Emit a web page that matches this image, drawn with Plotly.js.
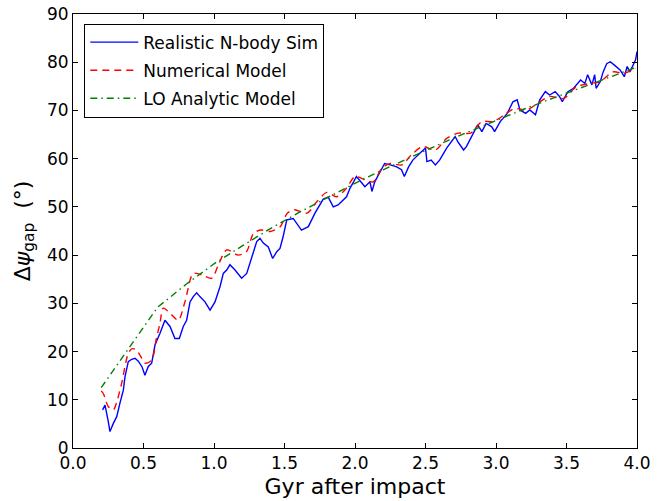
<!DOCTYPE html>
<html>
<head>
<meta charset="utf-8">
<script src="https://cdn.plot.ly/plotly-3.0.1.min.js"></script>
<style>html,body{margin:0;padding:0;background:#fff;}#chart{width:670px;height:501px;}</style>
</head>
<body>
<div id="chart"></div>
<script>
// Realistic N-body Sim (blue)
const simT = [0.21,0.227,0.25,0.262,0.286,0.31,0.333,0.357,0.369,0.392,0.416,0.44,0.463,0.49,0.51,0.534,0.558,0.582,0.617,0.652,0.688,0.723,0.754,0.782,0.806,0.83,0.853,0.877,0.90,0.936,0.972,1.007,1.043,1.066,1.09,1.113,1.149,1.196,1.232,1.267,1.303,1.326,1.35,1.385,1.416,1.445,1.468,1.49,1.516,1.562,1.62,1.669,1.716,1.775,1.81,1.846,1.88,1.94,1.965,1.99,2.01,2.05,2.07,2.106,2.12,2.14,2.18,2.21,2.25,2.296,2.33,2.35,2.38,2.41,2.46,2.50,2.51,2.54,2.57,2.60,2.65,2.69,2.71,2.73,2.77,2.79,2.83,2.87,2.90,2.93,2.97,2.99,3.03,3.08,3.12,3.15,3.17,3.21,3.24,3.28,3.31,3.35,3.38,3.42,3.45,3.47,3.51,3.55,3.60,3.63,3.65,3.68,3.70,3.71,3.74,3.76,3.785,3.81,3.84,3.88,3.91,3.93,3.95,3.97,3.99,4.0];
const simY = [7.9,8.9,5.5,3.4,5.1,6.5,9.3,12.0,14.8,17.9,18.4,18.6,18.0,16.8,15.1,16.9,17.6,21.4,23.8,26.5,25.2,22.7,22.7,25.2,26.5,30.3,31.4,32.2,31.4,30.3,28.6,30.3,33.5,36.2,36.9,38.0,36.9,35.2,36.2,39.7,42.8,43.5,42.5,41.7,39.3,40.7,41.4,43.8,47.3,47.6,45.2,45.9,48.7,51.6,52.0,50.0,50.4,52.1,53.9,55.2,56.3,54.9,54.2,55.2,53.2,55.2,57.3,59.0,58.7,58.3,57.7,56.3,58.3,59.7,61.1,62.2,59.4,59.7,58.7,59.7,62.2,63.9,64.6,63.5,61.8,62.5,64.6,67.0,65.6,67.3,66.6,65.6,67.7,69.4,71.8,72.2,70.1,69.4,70.1,69.1,72.2,73.9,73.2,73.9,72.9,71.8,73.9,74.6,76.3,75.6,77.4,75.3,77.4,74.6,76.0,78.0,79.7,80.1,79.4,78.4,77.0,79.1,78.0,79.4,80.5,82.2];

// Numerical Model (red dashed)
const numT = [0.2,0.215,0.25,0.286,0.31,0.345,0.392,0.42,0.45,0.48,0.51,0.558,0.59,0.617,0.64,0.70,0.747,0.794,0.853,0.913,0.984,1.03,1.09,1.17,1.23,1.28,1.33,1.40,1.47,1.52,1.57,1.66,1.73,1.80,1.87,1.94,2.0,2.07,2.13,2.19,2.25,2.33,2.40,2.48,2.57,2.65,2.73,2.82,2.90,2.98,3.06,3.13,3.22,3.31,3.38,3.48,3.57,3.67,3.74,3.83,3.91,3.99];
const numY = [11.8,11.3,8.6,7.9,9.5,13.4,19.6,20.6,20.3,19.0,17.6,18.2,22.5,25.9,29.0,27.6,26.5,30.3,36.2,35.9,35.2,37.9,41.1,40.0,40.7,44.5,45.2,44.9,45.9,48.7,49.4,48.7,51.1,53.0,52.1,53.9,56.3,55.6,55.2,58.0,59.0,58.7,60.8,62.5,61.8,64.2,65.3,65.3,67.7,67.7,69.1,70.4,70.1,71.8,72.9,72.5,74.9,75.6,76.0,78.0,77.7,78.7];

// LO Analytic Model (green dash-dot)
const anaT = [0.2,0.6,0.8,1.0,1.2,1.4,1.6,1.8,2.0,2.2,2.4,2.6,2.8,3.0,3.2,3.4,3.6,3.8,4.0];
const anaY = [12.5,29.2,33.9,38.2,41.9,45.5,48.8,51.9,54.9,57.7,60.4,63.0,65.5,67.9,70.3,72.5,74.7,76.9,79.0];

const seriesNames = ['Realistic N-body Sim','Numerical Model','LO Analytic Model'];
const xTicks = [0.0,0.5,1.0,1.5,2.0,2.5,3.0,3.5,4.0];
const xTickText = ['0.0','0.5','1.0','1.5','2.0','2.5','3.0','3.5','4.0'];
const yTicks = [0,10,20,30,40,50,60,70,80,90];

const FONT = 'DejaVu Sans, sans-serif';

const traces = [
  {x: simT, y: simY, name: seriesNames[0], legendgroup: 'a', mode: 'lines', type: 'scatter',
   line: {color: '#0000ff', width: 1.4}},
  {x: numT, y: numY, name: seriesNames[1], legendgroup: 'b', mode: 'lines', type: 'scatter',
   line: {color: '#ff0000', width: 1.4, dash: '7px,5px', shape: 'spline', smoothing: 0.8}},
  {x: anaT, y: anaY, name: seriesNames[2], legendgroup: 'c', mode: 'lines', type: 'scatter',
   line: {color: '#008000', width: 1.4, dash: '7px,4px,1.5px,4px'}}
];

const axisCommon = {
  showgrid: false, zeroline: false, showline: true, linecolor: '#000', linewidth: 1,
  mirror: 'ticks', ticks: 'inside', ticklen: 5, tickcolor: '#000', tickwidth: 1,
  tickfont: {family: FONT, size: 17, color: '#000'}
};

const layout = {
  width: 670, height: 501,
  margin: {l: 73, r: 33, t: 14, b: 53},
  paper_bgcolor: '#fff', plot_bgcolor: '#fff',
  font: {family: FONT, color: '#000'},
  showlegend: true,
  legend: {
    x: 0.02, y: 0.978, xanchor: 'left', yanchor: 'top',
    bgcolor: '#fff', bordercolor: '#000', borderwidth: 1,
    font: {family: FONT, size: 17, color: '#000'},
    itemwidth: 48, traceorder: 'grouped', tracegroupgap: 3
  },
  xaxis: Object.assign({}, axisCommon, {
    range: [0, 4], tickvals: xTicks, ticktext: xTickText,
    title: {text: 'Gyr after impact', font: {family: FONT, size: 22, color: '#000'}, standoff: 6}
  }),
  yaxis: Object.assign({}, axisCommon, {
    range: [0, 90], tickvals: yTicks,
    title: {text: 'Δ<i>ψ</i><sub>gap</sub>  (°)', font: {family: FONT, size: 22, color: '#000'}, standoff: 10}
  })
};

Plotly.newPlot('chart', traces, layout, {staticPlot: true, displayModeBar: false});
</script>
</body>
</html>
